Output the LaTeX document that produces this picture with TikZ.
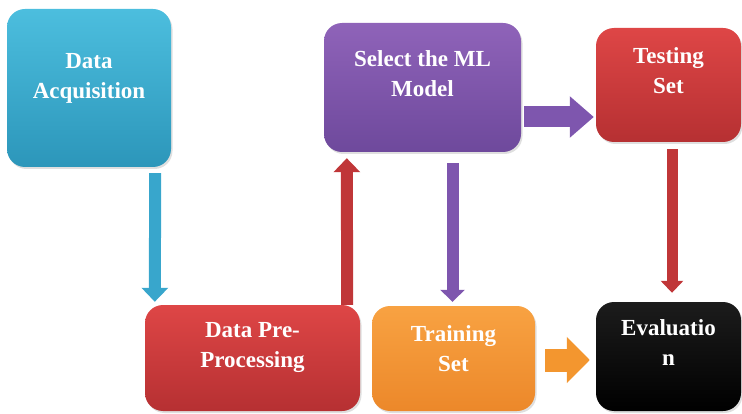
\documentclass[tikz,border=0pt]{standalone}
\usepackage{fontspec}
\setmainfont{Liberation Serif}
\usetikzlibrary{arrows.meta, shadows}

\definecolor{bluetop}{RGB}{76,190,222}
\definecolor{bluebot}{RGB}{44,150,186}
\definecolor{purpletop}{RGB}{143,99,185}
\definecolor{purplebot}{RGB}{110,73,156}
\definecolor{redtop}{RGB}{222,70,70}
\definecolor{redbot}{RGB}{182,48,50}
\definecolor{orangetop}{RGB}{248,162,66}
\definecolor{orangebot}{RGB}{236,136,42}
\definecolor{blackbot}{RGB}{0,0,0}
\definecolor{blacktop}{RGB}{28,28,28}
\definecolor{bluearrow}{RGB}{56,166,204}
\definecolor{redarrow}{RGB}{192,54,56}
\definecolor{purplearrow}{RGB}{126,86,174}
\definecolor{orangearrow}{RGB}{243,150,47}

\begin{document}
\begin{tikzpicture}[x=1pt, y=1pt,
		stage/.style={rounded corners=18pt, inner sep=0pt, top color=#1top, bottom color=#1bot,
			drop shadow={opacity=0.25, shadow xshift=1.5pt, shadow yshift=-2pt}},
		stagetext/.style={text=white, font=\bfseries\fontsize{23}{30}\selectfont, align=center, anchor=base, inner sep=0pt},
		flow/.style={line width=12pt, draw=#1, -{Triangle[width=26pt, length=14pt]}}]
	\useasboundingbox (0,0) rectangle (742,413);

	% top row
	\node[stage=blue, minimum width=164pt, minimum height=158pt,
		label={[stagetext, yshift=-90pt]north:Data\\Acquisition}] (acq) at (89,325) {};
	\node[stage=purple, minimum width=197pt, minimum height=129pt,
		label={[stagetext, yshift=-74pt]north:Select the ML\\Model}] (model) at (422.5,325.5) {};
	\node[stage=red, minimum width=145pt, minimum height=114pt,
		label={[stagetext, yshift=-66pt]north:Testing\\Set}] (test) at (668.5,328) {};

	% bottom row
	\node[stage=red, minimum width=215pt, minimum height=106pt,
		label={[stagetext, yshift=-63pt]north:Data Pre-\\Processing}] (pre) at (252.5,55) {};
	\node[stage=orange, minimum width=163pt, minimum height=105pt,
		label={[stagetext, yshift=-66pt]north:Training\\Set}] (train) at (453.5,54.5) {};
	\node[stage=black, minimum width=145pt, minimum height=109pt,
		label={[stagetext, yshift=-64pt]north:Evaluatio\\n}] (eval) at (668.5,56.5) {};

	% arrows
	\draw[flow=bluearrow] ([xshift=-16pt,yshift=-6pt]acq.south east) -- ([xshift=10pt,yshift=3pt]pre.north west);
	\draw[flow=redarrow] ([xshift=-13pt]pre.north east) -- ([xshift=23pt,yshift=-6pt]model.south west);
	\draw[flow=purplearrow, -{Triangle[width=24pt, length=12pt]}] ([xshift=30pt,yshift=-11pt]model.south) -- ([xshift=-1pt,yshift=4pt]train.north);
	\draw[flow=redarrow, line width=11pt, -{Triangle[width=22pt, length=12pt]}] ([xshift=3.5pt,yshift=-7pt]test.south) -- ([xshift=3.5pt,yshift=9pt]eval.north);
	\draw[flow=purplearrow, line width=21pt, -{Triangle[width=40pt, length=24pt]}] ([xshift=3pt,yshift=-29.5pt]model.east) -- ([xshift=-2pt,yshift=-32pt]test.west);
	\draw[flow=orangearrow, line width=23pt, -{Triangle[width=45pt, length=23pt]}] ([xshift=10pt,yshift=-1.5pt]train.east) -- ([xshift=-6pt,yshift=-3.5pt]eval.west);
\end{tikzpicture}
\end{document}
